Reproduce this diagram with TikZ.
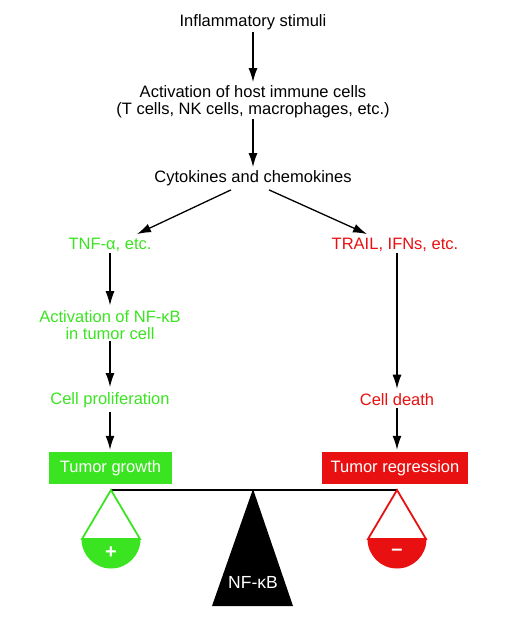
\documentclass[tikz,border=0pt]{standalone}
\usepackage{fontspec}
\setmainfont{Liberation Sans}
\usetikzlibrary{arrows.meta}
\usetikzlibrary{calc}
\definecolor{tgreen}{RGB}{58,228,32}
\definecolor{tred}{RGB}{232,16,16}

\begin{document}
\begin{tikzpicture}[x=1pt,y=-1pt,>/.tip={Latex[length=14pt,width=9pt]},
	txt/.style={font=\fontsize{16.5}{17}\selectfont,align=center,inner sep=1pt},
	box/.style={txt,text=white,minimum height=32pt,inner sep=0pt},
	arr/.style={->,line width=1.3pt}]
\useasboundingbox (0,0) rectangle (508,620);
\coordinate (gx) at (110,0);
\coordinate (rx) at (397,0);
\draw (253,22) node[txt] (stim) {Inflammatory stimuli};
\draw (253,101.5) node[txt] (host) {Activation of host immune cells\\(T cells, NK cells, macrophages, etc.)};
\draw (253,178) node[txt] (cyto) {Cytokines and chemokines};
\draw (110,245) node[txt,text=tgreen] (tnf) {TNF-α, etc.};
\draw (395,245) node[txt,text=tred] (trail) {TRAIL, IFNs, etc.};
\draw (110,325) node[txt,text=tgreen] (nfkb) {Activation of NF-κB\\in tumor cell};
\draw (110,400) node[txt,text=tgreen] (prolif) {Cell proliferation};
\draw (397,400) node[txt,text=tred] (death) {Cell death};
\draw (110.5,468) node[box,fill=tgreen,minimum width=123pt] (growth) {Tumor growth};
\draw (395,468) node[box,fill=tred,minimum width=146pt] (regr) {Tumor regression};

\draw[arr,shorten <=1pt,shorten >=2pt] (stim.south) -- (host.north);
\draw[arr,shorten >=2pt] (host.south) -- (cyto.north);
\draw[arr] ($(cyto.south)+(-22,3)$) -- ($(tnf.north)+(27,-3)$);
\draw[arr] ($(cyto.south)+(16,3)$) -- ($(trail.north)+(-28,-3)$);
\draw[arr,shorten >=4pt] (tnf.south -| gx) -- (nfkb.north -| gx);
\draw[arr,shorten >=4pt] (nfkb.south -| gx) -- (prolif.north -| gx);
\draw[arr,shorten <=3pt,shorten >=2pt] (prolif.south -| gx) -- (growth.north -| gx);
\draw[arr,shorten >=4pt] (trail.south -| rx) -- (death.north -| rx);
\draw[arr,shorten <=1pt,shorten >=2pt] (death.south -| rx) -- (regr.north -| rx);

% balance
\coordinate (bl) at (111,490);
\coordinate (br) at (397,490);
\draw[line width=2.4pt] (bl) -- (br);
\fill (253,489) -- (293,606) -- (212,606) -- cycle;
\draw (253,582) node[txt,font=\fontsize{17.5}{18}\selectfont,text=white] (nf) {NF-κB};
\fill[tgreen] ($(bl)+(-29.5,49)$) arc (180:0:29.5) -- cycle;
\draw[tgreen,line width=1.8pt,line join=miter] ($(bl)+(-29,49)$) -- (bl) -- ($(bl)+(29,49)$) -- cycle;
\fill[tred] ($(br)+(-29.5,49)$) arc (180:0:29.5) -- cycle;
\draw[tred,line width=1.8pt,line join=miter] ($(br)+(-29,49)$) -- (br) -- ($(br)+(29,49)$) -- cycle;
\draw ($(bl)+(0,63)$) node[font=\fontsize{20}{20}\bfseries,text=white] (plus) {+};
\draw ($(br)+(0,62)$) node[font=\fontsize{20}{20}\bfseries,text=white] (minus) {–};
\end{tikzpicture}
\end{document}
